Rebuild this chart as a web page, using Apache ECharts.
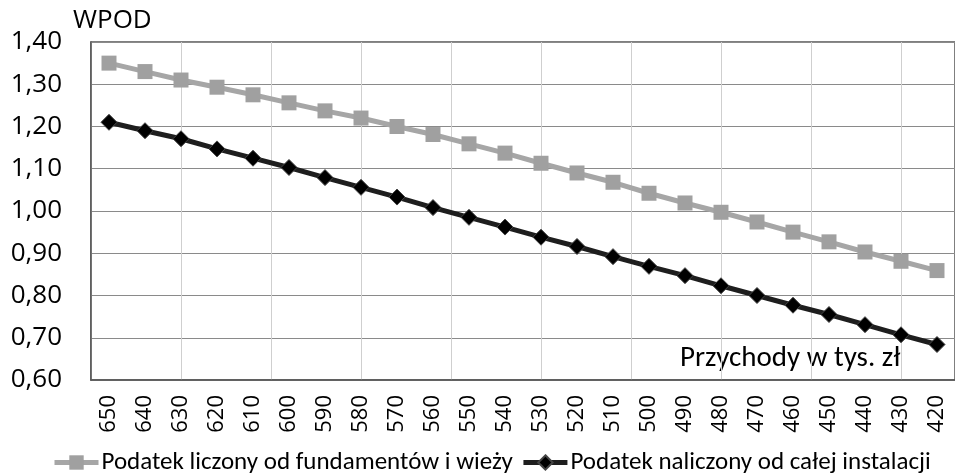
<!DOCTYPE html>
<html>
<head>
<meta charset="utf-8">
<script src="https://cdn.jsdelivr.net/npm/echarts@6/dist/echarts.min.js"></script>
<style>html,body{margin:0;padding:0;background:#fff;}#c{width:955px;height:475px;}</style>
</head>
<body>
<div id="c"></div>
<script>
const categories = ['650','640','630','620','610','600','590','580','570','560','550','540','530','520','510','500','490','480','470','460','450','440','430','420'];
const seriesGray = [1.35,1.33,1.31,1.293,1.275,1.256,1.237,1.22,1.20,1.181,1.159,1.137,1.113,1.09,1.068,1.042,1.019,0.997,0.974,0.95,0.927,0.903,0.881,0.859];
const seriesBlack = [1.21,1.19,1.171,1.147,1.125,1.103,1.079,1.056,1.033,1.008,0.985,0.962,0.938,0.916,0.892,0.869,0.847,0.823,0.80,0.777,0.755,0.731,0.707,0.684];
const nameGray = 'Podatek liczony od fundamentów i wieży';
const nameBlack = 'Podatek naliczony od całej instalacji';

const chart = echarts.init(document.getElementById('c'));
chart.setOption({
  animation: false,
  backgroundColor: '#fff',
  grid: {left: 91, top: 42, right: -6, bottom: 95, show: true, borderColor: '#555', borderWidth: 1.5, backgroundColor: 'transparent'},
  legend: {
    left: 47, top: 445, itemWidth: 44, itemHeight: 18, itemGap: 8,
    lineStyle: {width: 5},
    textStyle: {fontFamily: 'Carlito', fontSize: 25, color: '#000', padding: [0,0,0,-2]},
    data: [nameGray, nameBlack]
  },
  graphic: [
    {type: 'text', left: 73, top: 8, style: {text: 'WPOD', font: '26px "Open Sans"', fill: '#000'}},
    {type: 'text', left: 680, top: 344, style: {text: 'Przychody w tys. zł', font: '29px Carlito', fill: '#000'}}
  ],
  xAxis: [
    {
      type: 'category', data: categories, boundaryGap: true,
      axisLine: {lineStyle: {color: '#555', width: 1.5}},
      axisTick: {show: false},
      splitLine: {show: false},
      axisLabel: {rotate: 90, margin: 15, fontSize: 22, fontFamily: 'Open Sans', color: '#000', interval: 0}
    },
    {
      type: 'value', min: 0, max: 24, interval: 2.5, position: 'bottom',
      axisLine: {show: false}, axisTick: {show: false}, axisLabel: {show: false},
      splitLine: {show: true, lineStyle: {color: '#cfcfcf', width: 1}}
    }
  ],
  yAxis: {
    type: 'value', min: 0.6, max: 1.4, interval: 0.1,
    axisLine: {show: true, lineStyle: {color: '#555', width: 1.5}},
    axisTick: {show: false},
    splitLine: {lineStyle: {color: '#8a8a8a', width: 1}},
    axisLabel: {margin: 29, fontSize: 26, fontFamily: 'Open Sans', color: '#000',
      formatter: v => v.toFixed(2).replace('.', ',')}
  },
  series: [
    {
      name: nameGray, type: 'line', data: seriesGray, xAxisIndex: 0,
      symbol: 'rect', symbolSize: 15,
      lineStyle: {color: '#a6a6a6', width: 5},
      itemStyle: {color: '#a0a0a0'}
    },
    {
      name: nameBlack, type: 'line', data: seriesBlack, xAxisIndex: 0,
      symbol: 'diamond', symbolSize: 16,
      lineStyle: {color: '#1e1e1e', width: 5},
      itemStyle: {color: '#000', borderColor: '#444', borderWidth: 1}
    }
  ]
});
</script>
</body>
</html>
